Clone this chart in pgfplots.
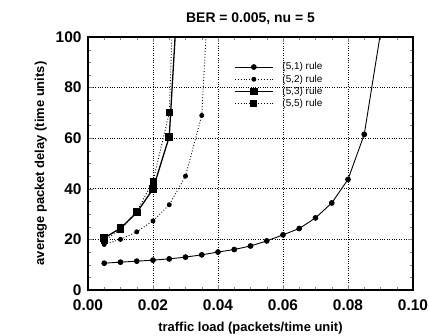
\documentclass[border=0pt]{standalone}
\usepackage{fontspec}
\setmainfont{Liberation Sans}
\usepackage{pgfplots}
\pgfplotsset{compat=1.18}
\begin{document}
\begin{tikzpicture}
\begin{axis}[
  scale only axis, width=325bp, height=253bp,
  xmin=0, xmax=0.1, ymin=0, ymax=100,
  xtick={0,0.02,...,0.1}, ytick={0,20,...,100},
  minor x tick num=3, minor y tick num=3,
  xticklabel style={/pgf/number format/fixed,/pgf/number format/fixed zerofill,/pgf/number format/precision=2},
  scaled x ticks=false,
  /pgf/number format/assume math mode=true,
  xticklabel style={font=\fontsize{15.5}{16}\selectfont\bfseries, yshift=-6bp},
  yticklabel style={font=\fontsize{15.5}{16}\selectfont\bfseries, xshift=-3bp},
  tick align=inside, major tick length=5bp, minor tick length=3bp,
  axis line style={line width=1.3bp},
  grid=major, major grid style={black, dotted, line width=0.9bp},
  title={BER = 0.005, nu = 5},
  title style={font=\fontsize{14}{15}\selectfont\bfseries, yshift=3bp},
  xlabel={traffic load (packets/time unit)},
  ylabel={average packet delay (time units)},
  xlabel style={font=\fontsize{13}{14}\selectfont\bfseries, yshift=-5bp},
  ylabel style={font=\fontsize{13}{14}\selectfont\bfseries, yshift=2bp},
  legend style={at={(0.44,0.915)}, anchor=north west, draw=none, fill=none,
    font=\fontsize{10}{11}\selectfont, row sep=-0.5bp, cells={anchor=west},
    /tikz/every odd column/.append style={column sep=5bp}},
  legend image code/.code={\draw[mark repeat=2,mark phase=2,#1] plot coordinates {(0bp,0bp) (19bp,0bp) (38bp,0bp)};},
]
\addplot[black, line width=0.9bp, mark=*, mark size=2.4bp] coordinates {
(0.005,10.6)(0.01,11)(0.015,11.4)(0.02,11.8)(0.025,12.3)(0.03,13)(0.035,13.9)(0.04,15)(0.045,16)(0.05,17.4)(0.055,19.4)(0.06,21.8)(0.065,24.3)(0.07,28.5)(0.075,34.4)(0.08,43.7)(0.085,61.5)};
\addlegendentry{\hspace{2bp}(5,1) rule}
\addplot[black, line width=0.9bp, dotted, mark=*, mark size=2bp, mark options={solid}] coordinates {
(0.005,18)(0.01,20)(0.015,23)(0.02,27.3)(0.025,33.7)(0.03,45)(0.035,69)};
\addlegendentry{\hspace{2bp}(5,2) rule}
\addplot[black, line width=1.3bp, mark=square*, mark size=3.2bp] coordinates {
(0.005,20.6)(0.01,24.4)(0.015,30.6)(0.02,39.9)(0.025,60.6)};
\addlegendentry{\hspace{2bp}(5,3) rule}
\addplot[black, line width=0.9bp, dotted, mark=square*, mark size=3bp, mark options={solid}] coordinates {
(0.005,19.5)(0.01,24)(0.015,31)(0.02,43)(0.025,70)};
\addlegendentry{\hspace{2bp}(5,5) rule}
\addplot[black, line width=0.9bp, forget plot] coordinates {(0.085,61.5)(0.0898,100)};
\addplot[black, line width=0.9bp, dotted, forget plot] coordinates {(0.035,69)(0.0363,100)};
\addplot[black, line width=1.3bp, forget plot] coordinates {(0.025,60.6)(0.0268,100)};
\addplot[black, line width=0.9bp, dotted, forget plot] coordinates {(0.025,70)(0.0258,100)};
\end{axis}
\pgfresetboundingbox
\useasboundingbox (current axis.south west) ++(-88bp,-46bp) rectangle ++(429bp,336bp);
\end{tikzpicture}
\end{document}
